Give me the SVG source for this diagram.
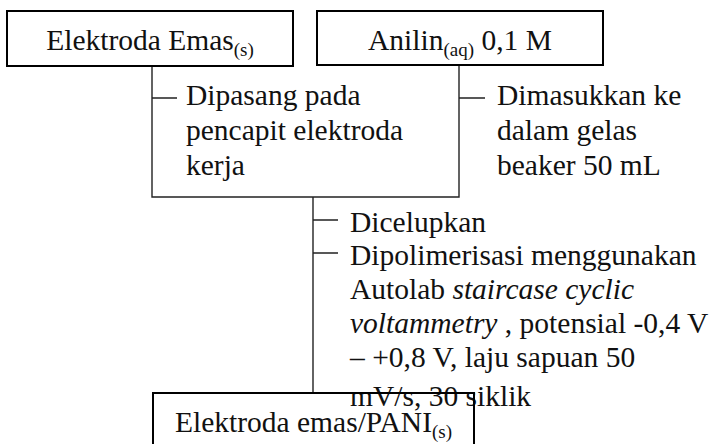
<svg xmlns="http://www.w3.org/2000/svg" width="709" height="444" viewBox="0 0 709 444">
<style>
text{font-family:"Liberation Serif","Times New Roman",serif;font-size:29.5px;fill:#111}
.sub{font-size:19px}
.it{font-style:italic}
.box{fill:none;stroke:#000;stroke-width:2}
.ln{fill:none;stroke:#222;stroke-width:1.4}
</style>
<rect width="709" height="444" fill="#fff"/>
<g id="connectors">
<path class="ln" d="M152 66 V197 H459 V65"/>
<path class="ln" d="M152 98 H177 M459 98 H485"/>
<path class="ln" d="M313 197 V393"/>
<path class="ln" d="M313 220 H338 M313 253 H338"/>
</g>
<g id="label-left">
<text x="186" y="105">Dipasang pada</text>
<text x="186" y="140">pencapit elektroda</text>
<text x="186" y="175">kerja</text>
</g>
<g id="label-right">
<text x="497" y="105">Dimasukkan ke</text>
<text x="497" y="140">dalam gelas</text>
<text x="497" y="175">beaker 50 mL</text>
</g>
<g id="label-bottom">
<text x="350" y="232">Dicelupkan</text>
<text x="350" y="265">Dipolimerisasi menggunakan</text>
<text x="350" y="299">Autolab <tspan class="it">staircase cyclic</tspan></text>
<text x="350" y="333"><tspan class="it">voltammetry</tspan> , potensial -0,4 V</text>
<text x="350" y="367">– +0,8 V, laju sapuan 50</text>
<text x="350" y="406">mV/s, 30 siklik</text>
</g>
<g id="node-emas">
<rect class="box" x="7" y="11" width="286" height="55"/>
<text x="150" y="50" text-anchor="middle">Elektroda Emas<tspan class="sub" dy="6">(s)</tspan></text>
</g>
<g id="node-anilin">
<rect class="box" x="317" y="11" width="286" height="54"/>
<text x="460" y="50" text-anchor="middle">Anilin<tspan class="sub" dy="6">(aq)</tspan><tspan dy="-6"> 0,1 M</tspan></text>
</g>
<g id="node-pani">
<rect class="box" x="153" y="393" width="321" height="70"/>
<text x="313.5" y="432" text-anchor="middle">Elektroda emas/PANI<tspan class="sub" dy="6">(s)</tspan></text>
</g>
</svg>
